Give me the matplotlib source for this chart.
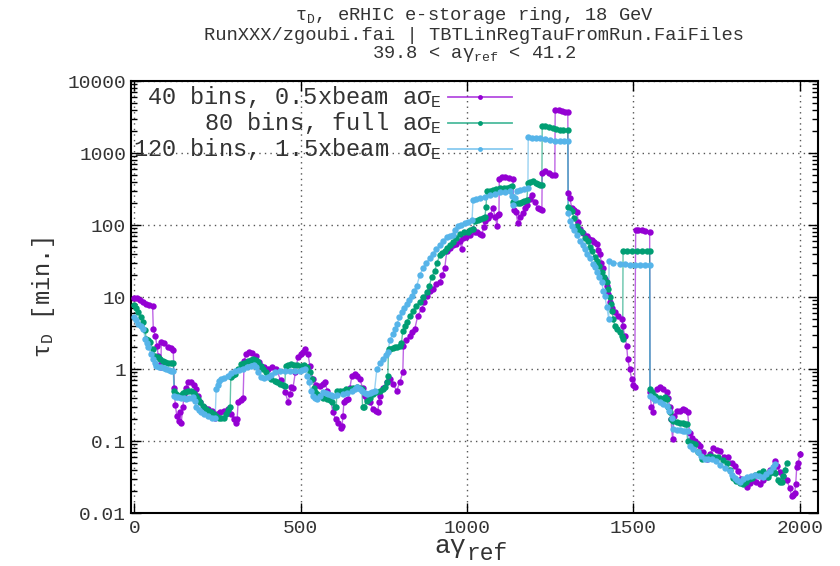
import matplotlib
matplotlib.use("Agg")
import matplotlib.pyplot as plt
from matplotlib.ticker import FixedLocator, FixedFormatter, LogLocator, NullFormatter

plt.rcParams["font.family"] = ["Liberation Mono", "DejaVu Sans"]
plt.rcParams["mathtext.fontset"] = "custom"
plt.rcParams["mathtext.rm"] = "Liberation Mono"
plt.rcParams["mathtext.it"] = "Liberation Mono"
plt.rcParams["mathtext.bf"] = "Liberation Mono:bold"

# --- data (x = a*gamma_ref, y = tau_D in minutes) ---
x40 = [0, 8, 16, 25, 35, 45, 55, 57, 63, 68, 72, 76, 80, 81, 90, 100, 110, 117, 120, 123, 128, 133, 138, 141,
       146, 150, 155, 162, 170, 178, 185, 192, 198, 210, 222, 232, 243, 250, 258, 270, 282, 292, 300, 306, 309,
       312, 320, 327, 330, 336, 345, 355, 366, 375, 381, 390, 402, 414, 426, 440, 453, 462, 468, 471, 477, 484,
       492, 500, 507, 513, 522, 528, 537, 547, 558, 566, 573, 580, 588, 597, 605, 612, 620, 624, 627, 630, 636,
       642, 648, 654, 663, 670, 678, 686, 693, 700, 708, 717, 725, 732, 735, 738, 748, 758, 768, 777, 789, 798,
       807, 809, 818, 828, 836, 843, 852, 864, 872, 879, 888, 897, 908, 918, 925, 933, 939, 948, 957, 967, 978,
       984, 987, 998, 1008, 1018, 1024, 1030, 1038, 1045, 1050, 1054, 1062, 1069, 1078, 1085, 1090, 1093, 1096,
       1097, 1105, 1115, 1125, 1138, 1141, 1147, 1153, 1160, 1168, 1175, 1180, 1188, 1195, 1204, 1213, 1220,
       1225, 1226, 1235, 1245, 1255, 1264, 1265, 1275, 1285, 1295, 1303, 1304, 1309, 1315, 1322, 1330, 1335,
       1339, 1350, 1360, 1368, 1375, 1383, 1390, 1395, 1399, 1404, 1408, 1414, 1420, 1425, 1429, 1436, 1444,
       1455, 1465, 1468, 1474, 1480, 1483, 1489, 1495, 1500, 1504, 1507, 1515, 1525, 1535, 1549, 1550, 1554,
       1558, 1563, 1570, 1579, 1590, 1600, 1605, 1609, 1613, 1618, 1622, 1630, 1639, 1650, 1656, 1663, 1669,
       1677, 1685, 1693, 1700, 1710, 1720, 1730, 1740, 1750, 1760, 1772, 1784, 1796, 1805, 1814, 1825, 1835,
       1841, 1850, 1859, 1870, 1880, 1890, 1901, 1912, 1925, 1932, 1940, 1950, 1961, 1970, 1976, 1981, 1985,
       1988, 1991, 1996, 2000]
y40 = [9.8, 9.6, 9.2, 8.6, 8.0, 7.8, 7.4, 3.6, 2.9, 2.1, 1.5, 1.15, 1.05, 2.4, 2.3, 2.0, 1.95, 1.85, 0.55, 0.32,
       0.22, 0.19, 0.25, 0.18, 0.3, 0.45, 0.55, 0.65, 0.66, 0.6, 0.52, 0.42, 0.35, 0.3, 0.28, 0.26, 0.21, 0.24,
       0.25, 0.26, 0.28, 0.24, 0.2, 0.18, 0.2, 0.35, 0.37, 0.4, 1.3, 1.6, 1.7, 1.65, 1.5, 1.25, 1.1, 1.05, 1.0,
       1.05, 1.0, 0.7, 0.48, 0.35, 0.45, 0.56, 0.55, 0.9, 1.47, 1.6, 1.7, 1.9, 1.6, 1.1, 0.72, 0.6, 0.58, 0.62,
       0.66, 0.5, 0.42, 0.25, 0.2, 0.18, 0.15, 0.16, 0.22, 0.35, 0.37, 0.38, 0.55, 0.8, 0.85, 0.8, 0.72, 0.55,
       0.42, 0.38, 0.35, 0.28, 0.26, 0.25, 0.35, 0.42, 0.55, 0.65, 0.72, 0.62, 0.5, 0.66, 0.9, 2.1, 2.5, 2.9,
       3.3, 3.6, 5.5, 6.9, 8.5, 10.4, 12, 13, 15, 16, 20, 25, 43, 48, 52, 55, 59, 47, 65, 68, 72, 89, 80, 81,
       75, 72, 95, 112, 125, 136, 170, 130, 98, 136, 140, 440, 470, 460, 450, 430, 160, 150, 105, 130, 145,
       170, 187, 230, 260, 212, 170, 165, 160, 530, 560, 520, 500, 490, 3900, 3950, 3800, 3750, 3700, 280,
       240, 170, 160, 150, 110, 89, 78, 70, 64, 61, 58, 55, 45, 40, 30, 25, 18, 14, 11, 8.6, 7, 6.2, 5.5, 5,
       4, 2.9, 2.1, 1.38, 1.0, 0.72, 0.6, 0.56, 84, 86, 84, 83, 80, 0.48, 0.3, 0.25, 0.4, 0.52, 0.56, 0.52,
       0.48, 0.4, 0.3, 0.2, 0.106, 0.22, 0.26, 0.26, 0.28, 0.27, 0.25, 0.13, 0.11, 0.1, 0.09, 0.084, 0.07,
       0.056, 0.065, 0.08, 0.075, 0.072, 0.06, 0.059, 0.05, 0.045, 0.038, 0.03, 0.027, 0.023, 0.026, 0.029,
       0.027, 0.025, 0.029, 0.032, 0.04, 0.052, 0.045, 0.037, 0.033, 0.029, 0.022, 0.017, 0.018, 0.019, 0.025,
       0.043, 0.05, 0.065]

x80 = [0, 6, 12, 20, 27, 32, 36, 42, 48, 55, 63, 70, 78, 85, 93, 102, 111, 117, 120, 126, 132, 140, 147, 153,
       162, 171, 178, 186, 192, 198, 207, 216, 223, 231, 239, 246, 254, 261, 270, 276, 282, 288, 290, 297, 303,
       312, 321, 330, 342, 350, 357, 365, 372, 380, 387, 395, 402, 412, 423, 430, 438, 446, 452, 455, 463, 471,
       480, 490, 501, 510, 519, 527, 534, 540, 543, 550, 558, 568, 579, 587, 594, 603, 607, 609, 618, 627, 637,
       648, 658, 669, 677, 684, 686, 690, 699, 708, 717, 727, 738, 746, 753, 758, 762, 764, 770, 777, 783, 790,
       798, 803, 807, 813, 819, 828, 837, 848, 858, 868, 879, 886, 894, 903, 910, 918, 925, 933, 940, 948, 957,
       967, 978, 990, 1003, 1010, 1018, 1024, 1032, 1039, 1047, 1054, 1057, 1060, 1070, 1078, 1088, 1099, 1110,
       1120, 1128, 1135, 1138, 1145, 1153, 1160, 1165, 1172, 1180, 1183, 1190, 1198, 1206, 1213, 1220, 1225,
       1226, 1235, 1247, 1258, 1268, 1279, 1290, 1303, 1304, 1309, 1315, 1322, 1330, 1338, 1345, 1354, 1363,
       1370, 1375, 1384, 1390, 1398, 1405, 1412, 1420, 1425, 1429, 1432, 1435, 1440, 1444, 1452, 1459, 1465,
       1468, 1469, 1480, 1495, 1510, 1525, 1540, 1549, 1550, 1557, 1564, 1570, 1580, 1588, 1594, 1600, 1605,
       1609, 1614, 1618, 1630, 1640, 1648, 1655, 1660, 1663, 1675, 1685, 1695, 1705, 1712, 1720, 1730, 1742,
       1754, 1768, 1781, 1790, 1799, 1810, 1820, 1829, 1840, 1848, 1856, 1866, 1878, 1889, 1896, 1904, 1912,
       1919, 1926, 1934, 1940, 1946, 1950, 1955, 1961]
y80 = [7.7, 7.0, 6.2, 5.2, 4.5, 3.5, 2.6, 2.5, 2.4, 1.9, 1.5, 1.45, 1.38, 1.3, 1.25, 1.22, 1.2, 1.2, 0.5, 0.45,
       0.42, 0.44, 0.47, 0.48, 0.5, 0.5, 0.46, 0.42, 0.38, 0.35, 0.31, 0.28, 0.26, 0.25, 0.24, 0.22, 0.21, 0.21,
       0.21, 0.24, 0.27, 0.3, 0.78, 0.82, 0.85, 1.0, 1.17, 1.22, 1.3, 1.35, 1.38, 1.32, 1.25, 1.1, 1.0, 0.9,
       0.8, 0.72, 0.68, 0.65, 0.62, 0.6, 0.58, 1.1, 1.15, 1.17, 1.15, 1.12, 1.1, 1.12, 1.07, 0.9, 0.72, 0.55,
       0.48, 0.45, 0.42, 0.4, 0.38, 0.37, 0.35, 0.3, 0.3, 0.5, 0.5, 0.5, 0.52, 0.53, 0.54, 0.56, 0.55, 0.53,
       0.3, 0.3, 0.36, 0.4, 0.45, 0.48, 0.5, 0.53, 0.56, 0.65, 0.8, 1.9, 1.9, 1.95, 2.0, 2.05, 2.1, 2.3, 3.4,
       4.0, 4.5, 5.5, 6.4, 7.5, 8.6, 10, 11.8, 14, 19, 23, 30, 38, 41, 44, 48, 52, 58, 65, 76, 79, 81, 85, 89,
       112, 118, 123, 127, 131, 180, 295, 300, 305, 315, 325, 328, 330, 338, 345, 212, 205, 200, 205, 212, 215,
       220, 380, 395, 405, 385, 370, 360, 355, 2350, 2380, 2300, 2200, 2150, 2100, 2100, 2080, 180, 165, 155,
       125, 98, 85, 81, 65, 59, 50, 44, 36, 32, 27, 22.5, 19, 16, 13, 10, 8, 6.4, 5, 4, 3.6, 3.3, 2.9, 2.6,
       43, 43, 43, 43, 44, 44, 43, 0.53, 0.48, 0.42, 0.4, 0.39, 0.38, 0.41, 0.38, 0.3, 0.25, 0.2, 0.19, 0.185,
       0.18, 0.18, 0.175, 0.17, 0.1, 0.095, 0.09, 0.07, 0.056, 0.058, 0.06, 0.062, 0.06, 0.059, 0.055, 0.05,
       0.04, 0.031, 0.028, 0.026, 0.025, 0.027, 0.03, 0.031, 0.034, 0.036, 0.038, 0.035, 0.032, 0.036, 0.04,
       0.036, 0.029, 0.027, 0.027, 0.033, 0.04, 0.05]

x120 = [0, 6, 12, 20, 27, 33, 38, 42, 50, 57, 62, 66, 74, 81, 90, 96, 105, 111, 117, 120, 126, 132, 140, 148,
        156, 165, 172, 177, 182, 186, 193, 201, 210, 222, 232, 243, 246, 252, 256, 261, 270, 282, 292, 303, 315,
        327, 339, 351, 359, 366, 373, 381, 390, 402, 412, 423, 438, 453, 468, 483, 498, 505, 513, 519, 525, 531,
        537, 543, 549, 558, 567, 575, 582, 590, 597, 610, 627, 640, 654, 662, 669, 677, 684, 692, 699, 707, 714,
        722, 729, 738, 747, 755, 762, 768, 777, 783, 789, 797, 804, 812, 819, 827, 834, 842, 849, 858, 867, 878,
        888, 897, 908, 918, 928, 939, 948, 957, 965, 972, 983, 993, 1004, 1015, 1018, 1028, 1039, 1054, 1069,
        1084, 1099, 1114, 1129, 1135, 1138, 1143, 1150, 1159, 1170, 1183, 1184, 1195, 1207, 1219, 1234, 1249,
        1264, 1279, 1292, 1303, 1304, 1310, 1315, 1322, 1330, 1339, 1348, 1355, 1360, 1369, 1378, 1385, 1390,
        1398, 1405, 1410, 1414, 1420, 1426, 1427, 1440, 1459, 1475, 1489, 1505, 1520, 1535, 1549, 1550, 1558,
        1566, 1579, 1590, 1600, 1608, 1615, 1618, 1630, 1640, 1648, 1656, 1663, 1669, 1680, 1693, 1703, 1714,
        1725, 1736, 1748, 1760, 1775, 1790, 1798, 1805, 1812, 1820, 1830, 1841, 1853, 1865, 1877, 1889, 1900,
        1910, 1919, 1925]
y120 = [5.3, 4.8, 4.2, 3.9, 3.6, 2.6, 2.3, 2.0, 1.6, 1.38, 1.2, 1.1, 1.08, 1.07, 1.03, 1.0, 0.97, 0.95, 0.94,
        0.42, 0.41, 0.41, 0.4, 0.39, 0.38, 0.39, 0.4, 0.41, 0.36, 0.3, 0.27, 0.25, 0.24, 0.22, 0.21, 0.21, 0.53,
        0.6, 0.68, 0.72, 0.76, 0.8, 0.87, 0.94, 0.97, 1.0, 1.05, 1.1, 1.12, 1.07, 0.9, 0.77, 0.76, 0.77, 0.83,
        0.9, 0.93, 0.94, 0.95, 0.94, 0.94, 0.97, 1.0, 0.8, 0.65, 0.5, 0.42, 0.4, 0.38, 0.42, 0.48, 0.46, 0.45,
        0.43, 0.42, 0.43, 0.45, 0.47, 0.5, 0.53, 0.56, 0.53, 0.5, 0.47, 0.45, 0.46, 0.48, 0.5, 1.0, 1.2, 1.38,
        1.55, 1.7, 2.5, 3.1, 3.6, 4.2, 5.2, 6.2, 7, 8, 9.2, 10.4, 12.3, 14.4, 20, 25, 30, 35, 40, 46, 52, 60,
        69, 71, 72, 85, 96, 100, 105, 110, 116, 220, 228, 235, 248, 260, 272, 285, 290, 295, 250, 187, 240, 295,
        305, 315, 325, 1650, 1630, 1610, 1600, 1550, 1500, 1470, 1450, 1450, 1450, 145, 115, 98, 85, 72, 59,
        52, 46, 40, 35, 29, 26, 22.5, 19, 16, 12, 10.4, 7.3, 5.0, 32, 30, 29, 28.5, 28, 28, 28, 28, 28, 0.42,
        0.39, 0.37, 0.35, 0.33, 0.31, 0.26, 0.21, 0.146, 0.142, 0.14, 0.137, 0.137, 0.137, 0.084, 0.078, 0.07,
        0.062, 0.056, 0.056, 0.056, 0.052, 0.047, 0.042, 0.038, 0.034, 0.031, 0.029, 0.027, 0.03, 0.032, 0.033,
        0.034, 0.033, 0.032, 0.035, 0.038, 0.044, 0.048]

labels = [r"40 bins, 0.5xbeam a$\sigma_{\rm E}$",
          r"80 bins, full a$\sigma_{\rm E}$",
          r"120 bins, 1.5xbeam a$\sigma_{\rm E}$"]
colors = ["#9400d3", "#009e73", "#56b4e9"]
yticks = [0.01, 0.1, 1, 10, 100, 1000, 10000]
ytick_labels = ["0.01", "0.1", "1", "10", "100", "1000", "10000"]
xticks = [0, 500, 1000, 1500, 2000]

fig = plt.figure(figsize=(8.4, 5.66), dpi=100)
ax = fig.add_axes([131 / 840, 1 - 513 / 566, 687 / 840, 432 / 566])

series = [(x40, y40), (x80, y80), (x120, y120)]
for (xs, ys), c in zip(series, colors):
    ax.plot(xs, ys, "-", color=c, lw=1.0, alpha=0.6, zorder=2)
    ax.plot(xs, ys, "o", color=c, ms=4.6, mec=c, mew=0, zorder=3)

ax.set_yscale("log")
ax.set_xlim(-10, 2055)
ax.set_ylim(0.01, 10000)
ax.yaxis.set_major_locator(FixedLocator(yticks))
ax.yaxis.set_major_formatter(FixedFormatter(ytick_labels))
ax.yaxis.set_minor_locator(LogLocator(base=10, subs=range(2, 10), numticks=20))
ax.yaxis.set_minor_formatter(NullFormatter())
ax.xaxis.set_major_locator(FixedLocator(xticks))
ax.tick_params(which="both", direction="in", top=True, right=True, labelsize=14, width=1,
               labelcolor="#333333")
ax.tick_params(which="major", length=7)
ax.tick_params(which="minor", length=4)
ax.tick_params(axis="x", pad=5)
for s in ax.spines.values():
    s.set_linewidth(1.5)
ax.grid(True, which="major", ls=(0, (1, 3)), color="#555555", lw=1.0)

# x label: "aγ" with a large "ref" subscript, as gnuplot draws it
fig.text(434 / 840, 1 - 553 / 566, "aγ", ha="left", va="baseline", fontsize=19, color="#333333")
fig.text(466 / 840, 1 - 560 / 566, "ref", ha="left", va="baseline", fontsize=16.5, color="#333333")

ax.set_ylabel(r"$\tau_{\rm D}$ [min.]", fontsize=17, color="#333333")
ax.yaxis.set_label_coords(-0.108, 0.5)

# legend drawn by hand, gnuplot style (text right aligned, sample on the right)
for i, (lab, c) in enumerate(zip(labels, colors)):
    yy = 0.962 - i * 0.06
    ax.text(0.452, yy, lab, transform=ax.transAxes, ha="right", va="center", fontsize=17,
            color="#333333")
    ax.plot([0.461, 0.555], [yy, yy], transform=ax.transAxes, color=c, lw=1.3, alpha=0.7)
    ax.plot([0.508], [yy], "o", transform=ax.transAxes, color=c, ms=3.5, mew=0)

xc = (131 + 818) / 2 / 840
tkw = dict(ha="center", va="center", fontsize=13.5, color="#333333")
fig.text(xc, 1 - 16 / 566, r"$\tau_{\rm D}$, eRHIC e-storage ring, 18 GeV", **tkw)
fig.text(xc, 1 - 35 / 566, "RunXXX/zgoubi.fai | TBTLinRegTauFromRun.FaiFiles", **tkw)
fig.text(xc, 1 - 54 / 566, r"39.8 < a$\gamma_{\rm ref}$ < 41.2", **tkw)

fig.savefig("out.png", dpi=100)
